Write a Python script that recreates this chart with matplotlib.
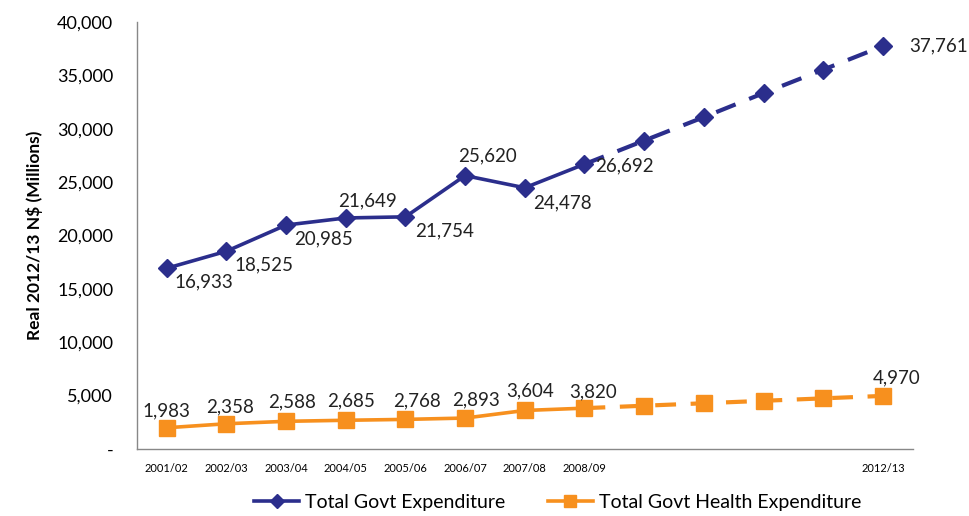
import numpy as np
import matplotlib.pyplot as plt
from matplotlib.ticker import FuncFormatter
from matplotlib.lines import Line2D

plt.rcParams['font.family'] = ['Lato', 'DejaVu Sans']

# categorias (rótulos vazios para os anos projetados)
anos = ["2001/02", "2002/03", "2003/04", "2004/05", "2005/06", "2006/07",
        "2007/08", "2008/09", "", "", "", "", "2012/13"]
despesa_total = [16933, 18525, 20985, 21649, 21754, 25620, 24478, 26692,
                 28900, 31100, 33350, 35550, 37761]
despesa_saude = [1983, 2358, 2588, 2685, 2768, 2893, 3604, 3820,
                 4050, 4280, 4510, 4740, 4970]
n_real = 8  # pontos observados (linha cheia), depois projeção tracejada

# quais pontos recebem rótulo e o deslocamento (pts)
rot_total = {0: (27, -10), 1: (27, -10), 2: (27, -10), 3: (16, 12), 4: (28, -10),
             5: (16, 14), 6: (27, -11), 7: (29, -1), 12: (40, 0)}
rot_saude = {0: (0, 12), 1: (3, 12), 2: (4, 14), 3: (4, 14), 4: (8, 13),
             5: (8, 13), 6: (4, 14), 7: (6, 12), 12: (10, 13)}

azul = '#2B2E8C'
laranja = '#F7901E'

fig = plt.figure(figsize=(9.7, 5.16), dpi=100)
ax = fig.add_axes([0.141, 0.130, 0.800, 0.827])

x = np.arange(len(anos))

# Despesa total
ax.plot(x[:n_real], despesa_total[:n_real], color=azul, lw=2.6,
        marker='D', ms=9.5, zorder=3)
ax.plot(x[n_real - 1:], despesa_total[n_real - 1:], color=azul, lw=3,
        ls=(0, (5, 3.5)), marker='D', ms=9.5, markevery=list(range(1, 13 - n_real + 1)), zorder=3)

# Despesa saúde
ax.plot(x[:n_real], despesa_saude[:n_real], color=laranja, lw=2.6,
        marker='s', ms=11, zorder=3)
ax.plot(x[n_real - 1:], despesa_saude[n_real - 1:], color=laranja, lw=3,
        ls=(0, (5, 3.5)), marker='s', ms=11, markevery=list(range(1, 13 - n_real + 1)), zorder=3)

for i, off in rot_total.items():
    ax.annotate(f"{despesa_total[i]:,}", (x[i], despesa_total[i]), xytext=off,
                textcoords='offset points', ha='center', va='center',
                fontsize=13.5, color='#222222')
for i, off in rot_saude.items():
    ax.annotate(f"{despesa_saude[i]:,}", (x[i], despesa_saude[i]), xytext=off,
                textcoords='offset points', ha='center', va='center',
                fontsize=13.5, color='#222222')

ax.set_xlim(-0.5, len(anos) - 0.5)
ax.set_ylim(0, 40000)
ax.set_yticks(np.arange(0, 40001, 5000))
ax.yaxis.set_major_formatter(FuncFormatter(lambda v, p: '-' if v == 0 else f"{int(v):,}"))
ax.set_xticks(x)
ax.set_xticklabels(anos, fontsize=8)
ax.tick_params(axis='y', labelsize=13, length=0, pad=17)
ax.tick_params(axis='x', length=0, pad=10)

for s in ['top', 'right']:
    ax.spines[s].set_visible(False)
for s in ['left', 'bottom']:
    ax.spines[s].set_color('#888888')
    ax.spines[s].set_linewidth(1)

ax.set_ylabel('Real 2012/13 N$ (Millions)', fontsize=12.5, fontweight='bold', labelpad=10)

handles = [Line2D([], [], color=azul, lw=2.6, marker='D', ms=7),
           Line2D([], [], color=laranja, lw=2.6, marker='s', ms=8)]
fig.legend(handles, ['Total Govt Expenditure', 'Total Govt Health Expenditure'],
           loc='center', bbox_to_anchor=(0.575, 0.027), ncol=2, frameon=False,
           fontsize=14, handlelength=2.3, columnspacing=2.2, handletextpad=0.3)

fig.savefig('out.png', dpi=100)
